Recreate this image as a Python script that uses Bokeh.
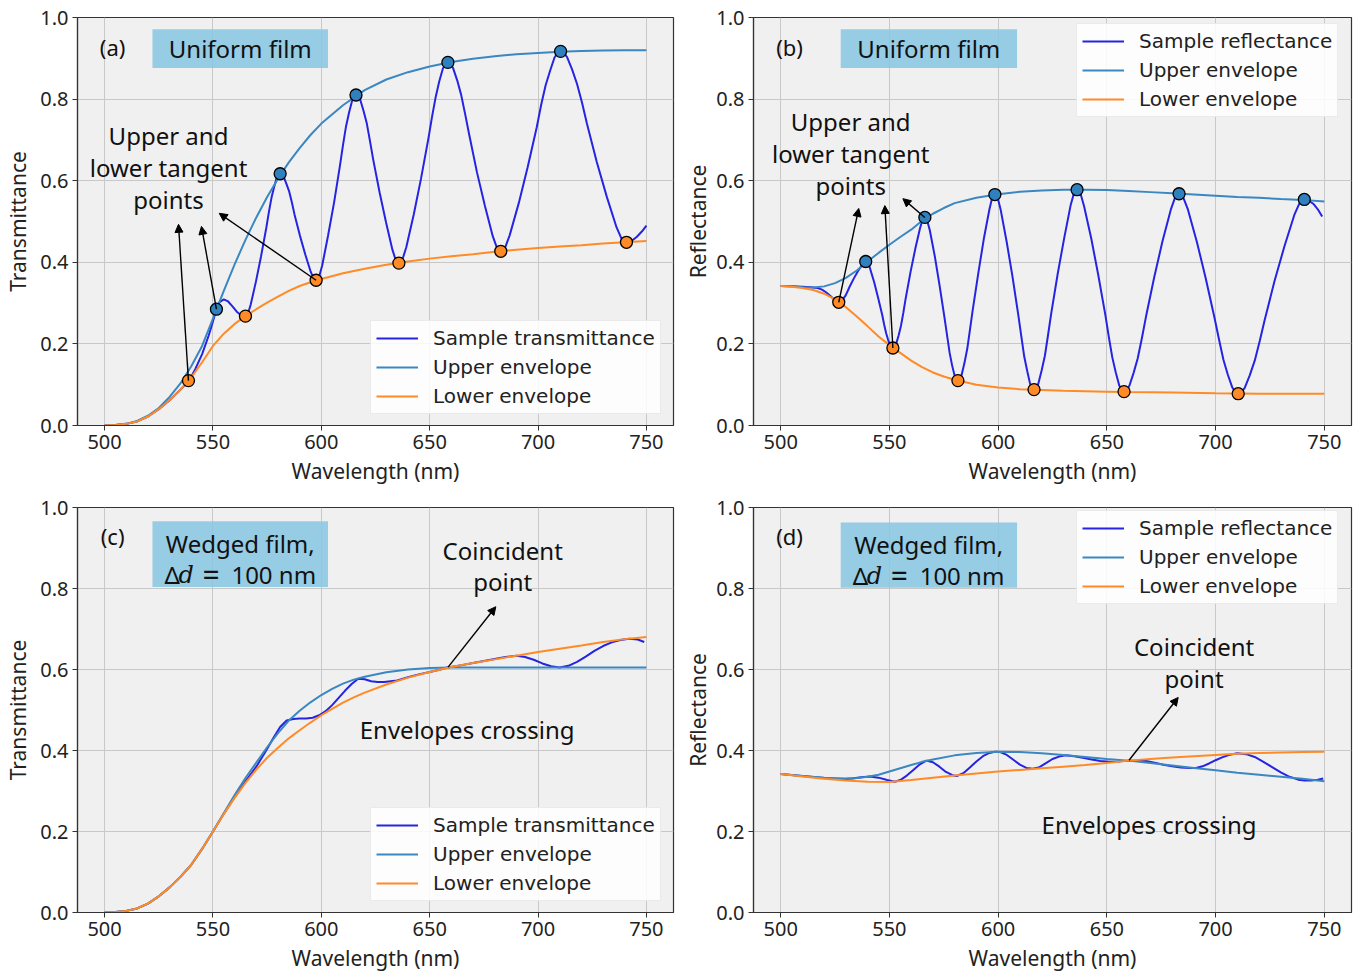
from bokeh.plotting import figure
from bokeh.models import (Range1d, FixedTicker, PrintfTickFormatter, Label,
                          BoxAnnotation, Arrow, NormalHead)
from bokeh.layouts import column, row
from bokeh.embed import file_html
from bokeh.resources import INLINE

# ---------------- data ----------------
x_ticks = [500, 550, 600, 650, 700, 750]
y_ticks = [0.0, 0.2, 0.4, 0.6, 0.8, 1.0]

# (a) uniform film, transmittance
a_sample_x = [500, 505, 510, 515, 520, 525, 530, 535, 539, 542, 545, 548, 550, 551.6,
              553, 555, 557, 559, 561, 563, 565,
              566.2, 567.4, 569.8, 572.2, 574.6, 575.8, 577, 578.2, 579.4, 580.2, 581,
              581.8, 582.7, 583.9, 585.2, 586.4, 587.6, 590.1, 592.6, 595.1, 596.4, 597.6,
              599, 600.4, 603.1, 605.9, 608.6, 610, 611.4, 612.8, 614.2, 615.1, 616,
              617, 618, 619.5, 621, 622.4, 623.9, 626.9, 629.9, 632.8, 634.3, 635.8,
              637.5, 639.2, 642.6, 646, 649.4, 651.1, 652.8, 654.4, 656.1, 657.3, 658.4,
              659.6, 660.8, 662.7, 664.5, 666.3, 668.2, 671.8, 675.5, 679.1, 681, 682.8,
              684.9, 686.9, 691.1, 695.2, 699.4, 701.4, 703.5, 705.6, 707.6, 709, 710.4,
              711.9, 713.4, 715.7, 718, 720.3, 722.6, 727.1, 731.7, 736.2, 738.5, 740.8,
              743, 745.5, 748, 750]
a_sample_y = [0, 0.001, 0.004, 0.01, 0.022, 0.04, 0.062, 0.088, 0.11, 0.14, 0.175, 0.22,
              0.255, 0.285, 0.302, 0.309, 0.304, 0.292, 0.279, 0.27, 0.268,
              0.275, 0.296, 0.352, 0.415, 0.484, 0.523, 0.558, 0.584, 0.607, 0.614, 0.617,
              0.615, 0.609, 0.592, 0.573, 0.547, 0.518, 0.466, 0.419, 0.377, 0.361, 0.356,
              0.365, 0.392, 0.465, 0.547, 0.637, 0.687, 0.733, 0.767, 0.796, 0.806, 0.81,
              0.807, 0.798, 0.771, 0.74, 0.699, 0.653, 0.571, 0.497, 0.431, 0.406, 0.398,
              0.408, 0.437, 0.516, 0.605, 0.703, 0.757, 0.806, 0.843, 0.875, 0.886, 0.89,
              0.886, 0.876, 0.846, 0.811, 0.765, 0.714, 0.621, 0.538, 0.464, 0.436, 0.427,
              0.437, 0.466, 0.545, 0.633, 0.731, 0.785, 0.834, 0.87, 0.902, 0.913, 0.917,
              0.913, 0.903, 0.873, 0.837, 0.791, 0.739, 0.646, 0.561, 0.486, 0.458, 0.449,
              0.452, 0.462, 0.476, 0.49]
a_upper_x = [500, 505, 510, 515, 520, 525, 530, 535, 540, 545, 550, 555, 560, 565, 570,
             575, 580, 585, 590, 595, 600, 610, 620, 630, 640, 650, 660, 670, 680, 690,
             700, 710, 720, 730, 740, 750]
a_upper_y = [0, 0.001, 0.004, 0.011, 0.024, 0.043, 0.07, 0.103, 0.145, 0.195, 0.262,
             0.33, 0.395, 0.455, 0.51, 0.56, 0.605, 0.645, 0.68, 0.712, 0.74, 0.785, 0.822,
             0.848, 0.866, 0.88, 0.891, 0.899, 0.905, 0.91, 0.913, 0.916, 0.918, 0.919,
             0.92, 0.92]
a_lower_x = [500, 505, 510, 515, 520, 525, 530, 535, 540, 545, 550, 555, 560, 565, 570,
             575, 580, 585, 590, 595, 600, 610, 620, 630, 640, 650, 660, 670, 680, 690,
             700, 710, 720, 730, 740, 750]
a_lower_y = [0, 0.001, 0.004, 0.01, 0.022, 0.04, 0.062, 0.088, 0.118, 0.155, 0.195,
             0.225, 0.249, 0.268, 0.285, 0.301, 0.316, 0.33, 0.342, 0.351, 0.359, 0.373,
             0.384, 0.394, 0.402, 0.409, 0.415, 0.42, 0.426, 0.431, 0.435, 0.439, 0.442,
             0.446, 0.449, 0.452]
a_max_x = [551.6, 581, 616, 658.4, 710.4]
a_max_y = [0.285, 0.617, 0.81, 0.89, 0.917]
a_min_x = [538.7, 565, 597.6, 635.8, 682.8, 740.8]
a_min_y = [0.11, 0.268, 0.356, 0.398, 0.427, 0.449]

# (b) uniform film, reflectance
b_sample_x = [500, 505, 510, 514, 517, 519, 521, 523, 525, 526.7, 528, 529.9, 531.7,
              533.6, 535.5, 537.4, 539.3,
              540.2, 541.1, 543, 544.8, 546.7, 547.6, 548.5, 549.4, 550.4, 551, 551.6,
              552.3, 553.1, 554.2, 555.3, 556.4, 557.5, 559.7, 561.9, 564.1, 565.2, 566.3,
              567.4, 568.6, 570.9, 573.1, 575.4, 576.6, 577.7, 578.8, 580, 580.7, 581.5,
              582.4, 583.2, 584.5, 585.8, 587, 588.3, 590.9, 593.4, 596, 597.2, 598.5,
              599.9, 601.2, 603.9, 606.6, 609.3, 610.7, 612, 613.4, 614.7, 615.6, 616.5,
              617.5, 618.5, 620, 621.5, 622.9, 624.4, 627.4, 630.4, 633.3, 634.8, 636.3,
              637.9, 639.5, 642.8, 646, 649.3, 650.9, 652.5, 654.1, 655.7, 656.8, 657.9,
              659.2, 660.4, 662.3, 664.2, 666.1, 668, 671.8, 675.6, 679.4, 681.3, 683.2,
              685.2, 687.3, 691.4, 695.4, 699.5, 701.6, 703.6, 705.6, 707.7, 709, 710.4,
              711.9, 713.4, 715.7, 718, 720.3, 722.6, 727.1, 731.7, 736.2, 738.5, 740.8,
              743, 745, 747, 749]
b_sample_y = [0.342, 0.341, 0.34, 0.339, 0.337, 0.333, 0.326, 0.317, 0.307, 0.302, 0.305,
              0.319, 0.34, 0.36, 0.378, 0.394, 0.402,
              0.398, 0.385, 0.351, 0.313, 0.271, 0.247, 0.226, 0.21, 0.196, 0.192, 0.19,
              0.193, 0.2, 0.22, 0.244, 0.276, 0.312, 0.376, 0.433, 0.484, 0.504, 0.51,
              0.502, 0.478, 0.414, 0.342, 0.262, 0.218, 0.178, 0.148, 0.122, 0.113, 0.11,
              0.114, 0.124, 0.153, 0.188, 0.233, 0.283, 0.374, 0.457, 0.53, 0.557, 0.566,
              0.556, 0.528, 0.451, 0.365, 0.27, 0.217, 0.169, 0.133, 0.102, 0.092, 0.088,
              0.092, 0.103, 0.135, 0.171, 0.22, 0.274, 0.372, 0.46, 0.539, 0.568, 0.578,
              0.568, 0.538, 0.459, 0.37, 0.271, 0.217, 0.167, 0.13, 0.098, 0.087, 0.083,
              0.087, 0.098, 0.129, 0.165, 0.214, 0.267, 0.364, 0.452, 0.529, 0.558, 0.568,
              0.558, 0.529, 0.45, 0.362, 0.264, 0.21, 0.161, 0.125, 0.093, 0.082, 0.078,
              0.082, 0.092, 0.123, 0.159, 0.207, 0.259, 0.354, 0.44, 0.516, 0.544, 0.554,
              0.551, 0.543, 0.53, 0.512]
b_upper_x = [500, 505, 510, 515, 520, 525, 530, 535, 540, 545, 550, 555, 560, 565, 570,
             575, 580, 590, 600, 610, 620, 630, 640, 650, 660, 670, 680, 690, 700, 710,
             720, 730, 740, 750]
b_upper_y = [0.342, 0.341, 0.339, 0.338, 0.341, 0.349, 0.362, 0.38, 0.402, 0.423, 0.443,
             0.462, 0.48, 0.502, 0.519, 0.533, 0.545, 0.558, 0.567, 0.573, 0.576, 0.578,
             0.578, 0.577, 0.575, 0.572, 0.569, 0.566, 0.563, 0.56, 0.558, 0.555, 0.553,
             0.549]
b_lower_x = [500, 505, 510, 515, 520, 525, 530, 535, 540, 545, 550, 555, 560, 565, 570,
             575, 580, 590, 600, 610, 620, 630, 640, 650, 660, 680, 700, 720, 740, 750]
b_lower_y = [0.342, 0.34, 0.337, 0.332, 0.323, 0.309, 0.29, 0.267, 0.243, 0.218, 0.197,
             0.178, 0.159, 0.143, 0.13, 0.12, 0.112, 0.1, 0.093, 0.089, 0.087, 0.085,
             0.084, 0.083, 0.082, 0.081, 0.079, 0.078, 0.078, 0.078]
b_max_x = [539.1, 566.3, 598.5, 636.3, 683.2, 740.8]
b_max_y = [0.402, 0.51, 0.566, 0.578, 0.568, 0.554]
b_min_x = [526.7, 551.6, 581.5, 616.5, 657.9, 710.4]
b_min_y = [0.302, 0.19, 0.11, 0.088, 0.083, 0.078]

# (c) wedged film, transmittance
c_sample_x = [500, 505, 510, 515, 520, 525, 530, 535, 540, 545, 550, 555, 560, 565, 570,
              574, 578, 581, 584, 587, 590, 593, 596, 599, 602, 605, 608, 611, 614, 617,
              620, 623, 626, 629, 632, 635, 640, 645, 650, 655, 658, 662, 666, 670, 675,
              680, 685, 690, 694, 698, 702, 706, 710, 714, 718, 722, 726, 730, 734, 738,
              742, 746, 749]
c_sample_y = [0, 0.001, 0.004, 0.01, 0.022, 0.04, 0.062, 0.088, 0.118, 0.157, 0.2, 0.244,
              0.285, 0.324, 0.36, 0.395, 0.432, 0.458, 0.474, 0.478, 0.479, 0.479, 0.481,
              0.487, 0.497, 0.512, 0.53, 0.548, 0.564, 0.577, 0.576, 0.571, 0.569, 0.569,
              0.571, 0.573, 0.581, 0.588, 0.594, 0.6, 0.605, 0.608, 0.612, 0.616, 0.621,
              0.626, 0.631, 0.634, 0.631, 0.624, 0.615, 0.608, 0.605, 0.609, 0.619, 0.632,
              0.646, 0.658, 0.667, 0.673, 0.676, 0.674, 0.668]
c_upper_x = [500, 505, 510, 515, 520, 525, 530, 535, 540, 545, 550, 555, 560, 565, 570,
             575, 580, 585, 590, 595, 600, 605, 610, 615, 620, 630, 640, 650, 660, 680,
             700, 720, 750]
c_upper_y = [0, 0.001, 0.004, 0.01, 0.022, 0.04, 0.062, 0.088, 0.118, 0.157, 0.2, 0.245,
             0.29, 0.332, 0.37, 0.408, 0.443, 0.474, 0.498, 0.519, 0.537, 0.552, 0.565,
             0.575, 0.582, 0.593, 0.6, 0.604, 0.605, 0.605, 0.605, 0.605, 0.605]
c_lower_x = [500, 505, 510, 515, 520, 525, 530, 535, 540, 545, 550, 555, 560, 565, 570,
             575, 580, 585, 590, 595, 600, 605, 610, 615, 620, 630, 640, 650, 660, 670,
             680, 690, 700, 710, 720, 730, 740, 750]
c_lower_y = [0, 0.001, 0.004, 0.01, 0.022, 0.04, 0.062, 0.088, 0.118, 0.157, 0.2, 0.243,
             0.283, 0.32, 0.353, 0.382, 0.407, 0.43, 0.45, 0.469, 0.487, 0.503, 0.518,
             0.531, 0.543, 0.563, 0.58, 0.594, 0.606, 0.616, 0.625, 0.634, 0.643, 0.651,
             0.659, 0.668, 0.675, 0.68]

# (d) wedged film, reflectance
d_sample_x = [500, 510, 520, 528, 533, 537, 541, 545, 549, 552.5, 555, 558, 561, 564, 567,
              570, 573, 576, 579, 581, 584, 587, 590, 593, 596, 598.5, 601, 604, 607, 610,
              613, 616, 619, 622, 625, 628, 631, 635, 639, 643, 647, 651, 655, 660, 664,
              668, 672, 676, 680, 684, 688, 691, 694, 697, 700, 703, 706, 710, 714, 718,
              722, 726, 730, 734, 738, 741, 744, 747, 749.5]
d_sample_y = [0.342, 0.337, 0.332, 0.329, 0.331, 0.334, 0.336, 0.333, 0.327, 0.323, 0.327,
              0.338, 0.352, 0.366, 0.375, 0.371, 0.36, 0.347, 0.339, 0.337, 0.344, 0.358,
              0.373, 0.386, 0.394, 0.397, 0.396, 0.389, 0.377, 0.365, 0.357, 0.355, 0.359,
              0.369, 0.379, 0.385, 0.388, 0.386, 0.382, 0.378, 0.374, 0.372, 0.373, 0.375,
              0.375, 0.374, 0.37, 0.365, 0.361, 0.358, 0.357, 0.357, 0.361, 0.368, 0.376,
              0.383, 0.389, 0.393, 0.391, 0.384, 0.372, 0.359, 0.346, 0.335, 0.328, 0.326,
              0.326, 0.328, 0.331]
d_upper_x = [500, 510, 520, 530, 535, 540, 545, 550, 555, 560, 565, 570, 580, 590, 600,
             610, 620, 630, 640, 650, 660, 670, 680, 690, 700, 710, 720, 730, 740, 750]
d_upper_y = [0.342, 0.337, 0.333, 0.331, 0.332, 0.335, 0.34, 0.348, 0.356, 0.364, 0.372,
             0.378, 0.388, 0.394, 0.397, 0.396, 0.393, 0.389, 0.384, 0.379, 0.375, 0.369,
             0.363, 0.357, 0.351, 0.345, 0.34, 0.335, 0.33, 0.324]
d_lower_x = [500, 510, 520, 530, 540, 550, 560, 570, 580, 590, 600, 610, 620, 630, 640,
             650, 660, 670, 680, 690, 700, 710, 720, 730, 740, 750]
d_lower_y = [0.342, 0.336, 0.33, 0.326, 0.323, 0.322, 0.327, 0.333, 0.338, 0.343, 0.348,
             0.352, 0.356, 0.36, 0.364, 0.369, 0.375, 0.379, 0.383, 0.386, 0.389, 0.392,
             0.394, 0.395, 0.396, 0.397]

# ---------------- styling ----------------
SAMPLE = "#2424e2"
UPPER = "#3a87c2"
LOWER = "#ff8a26"
MAXDOT = "#2f80bf"
BOXCOL = "#86c6e2"
FONT = "Noto Sans"
LFONT = "DejaVu Sans"


def make_panel(ylabel, sample_name, sx, sy, ux, uy, lx, ly, borders, legend_loc,
               ylabel_standoff):
    left, right, top, bottom = borders
    p = figure(width=681, height=487, output_backend="svg", toolbar_location=None,
               x_range=Range1d(487.5, 762.5), y_range=Range1d(0, 1),
               min_border_left=left, min_border_right=right,
               min_border_top=top, min_border_bottom=bottom)
    p.background_fill_color = "#f0f0f0"
    p.border_fill_color = "white"
    p.outline_line_color = "#333333"
    p.outline_line_width = 1.2
    p.grid.grid_line_color = "#c8c8c8"
    p.grid.grid_line_width = 1
    p.xaxis.ticker = FixedTicker(ticks=x_ticks)
    p.yaxis.ticker = FixedTicker(ticks=y_ticks)
    p.yaxis.formatter = PrintfTickFormatter(format="%.1f")
    p.xaxis.axis_label = "Wavelength (nm)"
    p.yaxis.axis_label = ylabel
    for ax in (p.xaxis[0], p.yaxis[0]):
        ax.axis_label_text_font = FONT
        ax.axis_label_text_font_size = "21px"
        ax.axis_label_text_font_style = "normal"
        ax.axis_label_text_color = "#222222"
        ax.major_label_text_font = FONT
        ax.major_label_text_font_size = "20px"
        ax.major_label_text_color = "#222222"
        ax.axis_line_color = "#333333"
        ax.axis_line_width = 1.2
        ax.major_tick_line_color = "#333333"
        ax.major_tick_out = 5
        ax.major_tick_in = 0
        ax.minor_tick_out = 0
        ax.minor_tick_in = 0
        ax.major_label_standoff = 4
        ax.axis_label_standoff = 5
    p.yaxis[0].axis_label_standoff = ylabel_standoff
    p.line(sx, sy, line_color=SAMPLE, line_width=2, legend_label=sample_name)
    p.line(ux, uy, line_color=UPPER, line_width=2, legend_label="Upper envelope")
    p.line(lx, ly, line_color=LOWER, line_width=2, legend_label="Lower envelope")
    lg = p.legend[0]
    lg.location = legend_loc
    lg.label_text_font = LFONT
    lg.label_text_font_size = "20px"
    lg.label_text_color = "#222222"
    lg.glyph_width = 42
    lg.glyph_height = 22
    lg.label_height = 22
    lg.label_standoff = 15
    lg.spacing = 5
    lg.padding = 5
    lg.margin = 0
    lg.border_line_color = "#d8d8d8"
    lg.border_line_width = 1
    lg.background_fill_color = "white"
    lg.background_fill_alpha = 0.85
    return p


def add_text(p, x, y, text, size="24px", align="center", x_offset=0, font=FONT,
             style="normal"):
    p.add_layout(Label(x=x, y=y, text=text, text_font=font, text_font_size=size,
                       text_font_style=style, text_align=align, text_baseline="middle",
                       x_offset=x_offset, text_color="#111111"))


def add_arrow(p, x0, y0, x1, y1):
    p.add_layout(Arrow(x_start=x0, y_start=y0, x_end=x1, y_end=y1, line_width=1.4,
                       line_color="black",
                       end=NormalHead(size=8, fill_color="black", line_color="black",
                                      line_width=1)))


def add_box(p, left, right, bottom, top):
    p.add_layout(BoxAnnotation(left=left, right=right, bottom=bottom, top=top,
                               fill_color=BOXCOL, fill_alpha=0.85, line_color=None))


def add_delta(p, x, y):
    add_text(p, x, y, "Δ", align="left")
    add_text(p, x, y, "d", align="left", x_offset=14, font="DejaVu Serif", style="italic")
    add_text(p, x, y, "=", align="left", x_offset=38, size="30px")
    add_text(p, x, y, "100 nm", align="left", x_offset=67)


# ---------- (a) ----------
pa = make_panel("Transmittance", "Sample transmittance", a_sample_x, a_sample_y,
                a_upper_x, a_upper_y, a_lower_x, a_lower_y, (77, 8, 16, 61), (293, 11), 5)
pa.scatter(a_max_x, a_max_y, size=12, fill_color=MAXDOT, line_color="black", line_width=1.3)
pa.scatter(a_min_x, a_min_y, size=12, fill_color=LOWER, line_color="black", line_width=1.3)
add_box(pa, 522.1, 603.1, 0.876, 0.971)
add_text(pa, 562.6, 0.925, "Uniform film")
add_text(pa, 503.7, 0.928, "(a)", size="22px")
add_text(pa, 529.5, 0.71, "Upper and")
add_text(pa, 529.5, 0.632, "lower tangent")
add_text(pa, 529.5, 0.554, "points")
add_arrow(pa, 538.7, 0.11, 534.1, 0.493)
add_arrow(pa, 551.6, 0.285, 544.7, 0.488)
add_arrow(pa, 597.6, 0.356, 552.9, 0.52)

# ---------- (b) ----------
pb = make_panel("Reflectance", "Sample reflectance", b_sample_x, b_sample_y,
                b_upper_x, b_upper_y, b_lower_x, b_lower_y, (71, 11, 17, 60), (323, 308), 1)
pb.scatter(b_max_x, b_max_y, size=12, fill_color=MAXDOT, line_color="black", line_width=1.3)
pb.scatter(b_min_x, b_min_y, size=12, fill_color=LOWER, line_color="black", line_width=1.3)
add_box(pb, 527.6, 608.7, 0.876, 0.971)
add_text(pb, 568.1, 0.925, "Uniform film")
add_text(pb, 504.1, 0.928, "(b)", size="22px")
add_text(pb, 532.2, 0.744, "Upper and")
add_text(pb, 532.2, 0.666, "lower tangent")
add_text(pb, 532.2, 0.588, "points")
add_arrow(pb, 526.7, 0.302, 535.9, 0.532)
add_arrow(pb, 551.6, 0.19, 547.9, 0.539)
add_arrow(pb, 566.3, 0.51, 556.2, 0.556)

# ---------- (c) ----------
pc = make_panel("Transmittance", "Sample transmittance", c_sample_x, c_sample_y,
                c_upper_x, c_upper_y, c_lower_x, c_lower_y, (77, 8, 20, 58), (293, 11), 5)
add_box(pc, 522.1, 603.1, 0.804, 0.966)
add_text(pc, 562.6, 0.912, "Wedged film,")
add_delta(pc, 527.6, 0.834)
add_text(pc, 503.7, 0.93, "(c)", size="22px")
add_text(pc, 683.7, 0.895, "Coincident")
add_text(pc, 683.7, 0.817, "point")
add_text(pc, 667.3, 0.453, "Envelopes crossing")
add_arrow(pc, 658.5, 0.606, 680.5, 0.755)

# ---------- (d) ----------
pd = make_panel("Reflectance", "Sample reflectance", d_sample_x, d_sample_y,
                d_upper_x, d_upper_y, d_lower_x, d_lower_y, (71, 11, 19, 59), (323, 308), 1)
add_box(pd, 527.6, 608.7, 0.802, 0.963)
add_text(pd, 568.1, 0.909, "Wedged film,")
add_delta(pd, 533.1, 0.831)
add_text(pd, 504.1, 0.93, "(d)", size="22px")
add_text(pd, 690.1, 0.658, "Coincident")
add_text(pd, 690.1, 0.579, "point")
add_text(pd, 669.4, 0.218, "Envelopes crossing")
add_arrow(pd, 660.2, 0.376, 682.8, 0.531)

layout = column(row(pa, pb), row(pc, pd))
open("out.html", "w").write(file_html(layout, INLINE))
